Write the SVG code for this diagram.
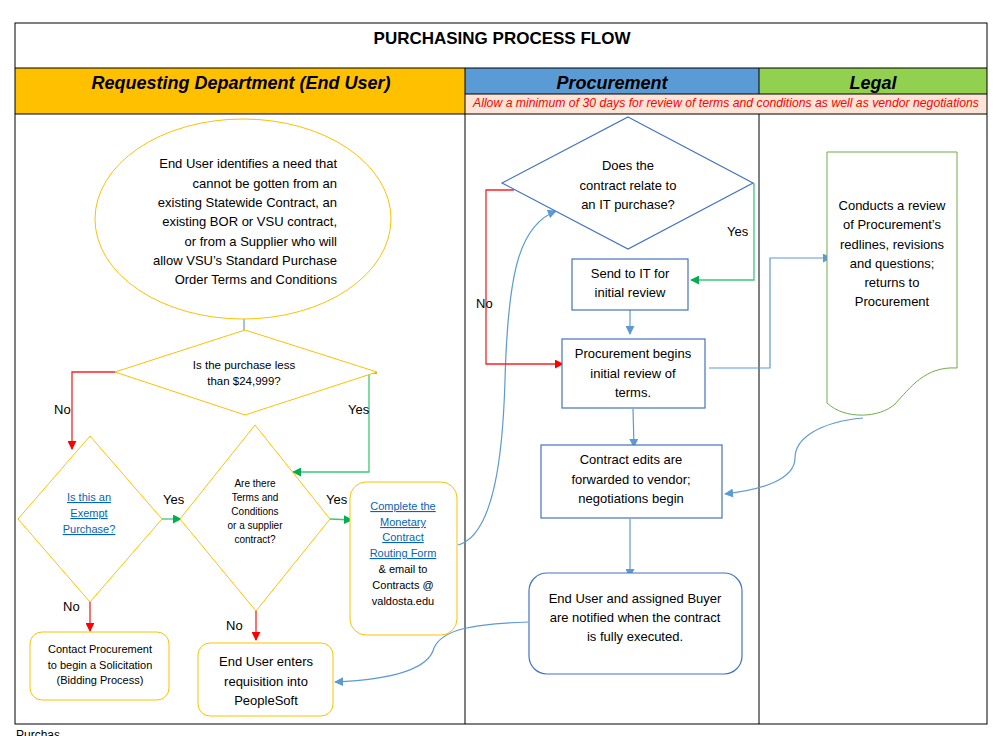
<svg xmlns="http://www.w3.org/2000/svg" width="1000" height="736" viewBox="0 0 1000 736">
<defs>
<style>
text{font-family:"Liberation Sans",Arial,sans-serif;fill:#000}
.t13{font-size:13px}
.t11{font-size:11px}
.t10{font-size:10px}
.c{text-anchor:middle}
.r{text-anchor:end}
.lnk{fill:#0563C1;text-decoration:underline}
.y{fill:#fff;stroke:#FFC000;stroke-width:1}
.b{fill:#fff;stroke:#4472C4;stroke-width:1.2}
.grid{stroke:#000;stroke-width:1;fill:none}
.cb{fill:none;stroke:#5B9BD5;stroke-width:1.2}
.cr{fill:none;stroke:#FF2020;stroke-width:1.3}
.cg{fill:none;stroke:#3CC878;stroke-width:1.3}
.hdr{font-size:18px;font-weight:bold;font-style:italic}
</style>
<marker id="ab" viewBox="0 0 10 10" refX="9" refY="5" markerWidth="9" markerHeight="9" markerUnits="userSpaceOnUse" orient="auto"><path d="M0,0 L10,5 L0,10 z" fill="#5B9BD5"/></marker>
<marker id="ar" viewBox="0 0 10 10" refX="9" refY="5" markerWidth="9" markerHeight="9" markerUnits="userSpaceOnUse" orient="auto"><path d="M0,0 L10,5 L0,10 z" fill="#FF0000"/></marker>
<marker id="ag" viewBox="0 0 10 10" refX="9" refY="5" markerWidth="9" markerHeight="9" markerUnits="userSpaceOnUse" orient="auto"><path d="M0,0 L10,5 L0,10 z" fill="#00B050"/></marker>
</defs>
<rect x="0" y="0" width="1000" height="736" fill="#fff"/>

<g id="frame">
<rect x="15" y="68" width="450" height="46" fill="#FFC000"/>
<rect x="465" y="68" width="294" height="26" fill="#5B9BD5"/>
<rect x="759" y="68" width="228" height="26" fill="#92D050"/>
<rect x="465" y="94" width="522" height="20" fill="#FCE4D6"/>
<rect x="15" y="23" width="972" height="701" class="grid"/>
<line x1="15" y1="68" x2="987" y2="68" class="grid"/>
<line x1="15" y1="114" x2="987" y2="114" class="grid"/>
<line x1="465" y1="94" x2="987" y2="94" class="grid"/>
<line x1="465" y1="68" x2="465" y2="724" class="grid"/>
<line x1="759" y1="68" x2="759" y2="94" class="grid"/>
<line x1="759" y1="114" x2="759" y2="724" class="grid"/>
<text x="502" y="44" class="c" style="font-size:17px;font-weight:bold">PURCHASING PROCESS FLOW</text>
<text x="241" y="89" class="c hdr">Requesting Department (End User)</text>
<text x="612" y="89" class="c hdr">Procurement</text>
<text x="873" y="89" class="c hdr">Legal</text>
<text x="726" y="107" class="c" textLength="506" lengthAdjust="spacingAndGlyphs" style="font-size:12px;font-style:italic;fill:#FF0000">Allow a minimum of 30 days for review of terms and conditions as well as vendor negotiations</text>
<text x="16" y="739" style="font-size:12px">Purchas</text>
</g>

<g id="connectors">
<line x1="244" y1="319" x2="244" y2="330" class="cb"/>
<polyline points="115,372 72,372 72,449" class="cr" marker-end="url(#ar)"/>
<text x="54" y="414" class="t13">No</text>
<polyline points="377,373 369,373 369,472 293,472" class="cg" marker-end="url(#ag)"/>
<text x="348" y="414" class="t13">Yes</text>
<line x1="162" y1="519" x2="181" y2="519" class="cg" marker-end="url(#ag)"/>
<text x="163" y="504" class="t13">Yes</text>
<line x1="330" y1="519" x2="352" y2="520" class="cg" marker-end="url(#ag)"/>
<text x="326" y="504" class="t13">Yes</text>
<line x1="90" y1="602" x2="90" y2="631" class="cr" marker-end="url(#ar)"/>
<text x="63" y="611" class="t13">No</text>
<line x1="256" y1="605" x2="256" y2="640" class="cr" marker-end="url(#ar)"/>
<text x="226" y="630" class="t13">No</text>
<path d="M528,622 C470,624 442,630 434,648 C428,672 380,680 335,682" class="cb" marker-end="url(#ab)"/>
<path d="M458,545 C495,535 503,450 505,380 C508,270 520,225 556,211" class="cb" marker-end="url(#ab)"/>
<polyline points="514,190 486,190 486,364 563,364" class="cr" marker-end="url(#ar)"/>
<text x="476" y="308" class="t13">No</text>
<polyline points="753,184 754,184 754,280 691,280" class="cg" marker-end="url(#ag)"/>
<text x="727" y="236" class="t13">Yes</text>
<line x1="630" y1="310" x2="630" y2="334" class="cb" marker-end="url(#ab)"/>
<polyline points="709,368 770,368 770,258 831,258" class="cb" marker-end="url(#ab)"/>
<path d="M863,418 C820,422 795,438 795,458 C795,480 760,490 725,494" class="cb" marker-end="url(#ab)"/>
<line x1="633" y1="409" x2="634" y2="447" class="cb" marker-end="url(#ab)"/>
<line x1="630" y1="519" x2="630" y2="577" class="cb" marker-end="url(#ab)"/>
</g>

<g id="n-start">
<ellipse cx="243" cy="219" rx="148" ry="100" class="y"/>
<text class="t13 r"><tspan x="337" y="168">End User identifies a need that</tspan><tspan x="337" y="188">cannot be gotten from an</tspan><tspan x="337" y="207">existing Statewide Contract, an</tspan><tspan x="337" y="226">existing BOR or VSU contract,</tspan><tspan x="337" y="246">or from a Supplier who will</tspan><tspan x="337" y="265">allow VSU’s Standard Purchase</tspan><tspan x="337" y="284">Order Terms and Conditions</tspan></text>
</g>

<g id="n-less">
<polygon points="245,330 377,372 245,415 115,372" class="y"/>
<text class="c" style="font-size:11.5px"><tspan x="244" y="369">Is the purchase less</tspan><tspan x="244" y="385">than $24,999?</tspan></text>
</g>

<g id="n-exempt">
<polygon points="90,436 162,519 90,602 18,519" class="y"/>
<text class="t11 c lnk"><tspan x="89" y="501">Is this an</tspan><tspan x="89" y="517">Exempt</tspan><tspan x="89" y="533">Purchase?</tspan></text>
</g>

<g id="n-terms">
<polygon points="255,425 330,519 256,611 180,519" class="y"/>
<text class="t10 c"><tspan x="255" y="487">Are there</tspan><tspan x="255" y="501">Terms and</tspan><tspan x="255" y="515">Conditions</tspan><tspan x="255" y="529">or a supplier</tspan><tspan x="255" y="543">contract?</tspan></text>
</g>

<g id="n-routing">
<rect x="350" y="482" width="107" height="153" rx="16" class="y"/>
<text class="t11 c"><tspan x="403" y="510" class="lnk">Complete the</tspan><tspan x="403" y="526" class="lnk">Monetary</tspan><tspan x="403" y="541" class="lnk">Contract</tspan><tspan x="403" y="557" class="lnk">Routing Form</tspan><tspan x="403" y="573">&amp; email to</tspan><tspan x="403" y="589">Contracts @</tspan><tspan x="403" y="605">valdosta.edu</tspan></text>
</g>

<g id="n-solicit">
<rect x="30" y="632" width="139" height="68" rx="12" class="y"/>
<text class="t11 c"><tspan x="100" y="653">Contact Procurement</tspan><tspan x="100" y="669">to begin a Solicitation</tspan><tspan x="100" y="684">(Bidding Process)</tspan></text>
</g>

<g id="n-req">
<rect x="198" y="643" width="135" height="73" rx="12" class="y"/>
<text class="t13 c"><tspan x="266" y="666">End User enters</tspan><tspan x="266" y="686">requisition into</tspan><tspan x="266" y="705">PeopleSoft</tspan></text>
</g>

<g id="n-it">
<polygon points="628,117 753,183 628,249 502,183" class="b"/>
<text class="t13 c"><tspan x="628" y="170">Does the</tspan><tspan x="628" y="190">contract relate to</tspan><tspan x="628" y="209">an IT purchase?</tspan></text>
</g>

<g id="n-sendit">
<rect x="572" y="259" width="116" height="51" class="b"/>
<text class="t13 c"><tspan x="630" y="278">Send to IT for</tspan><tspan x="630" y="297">initial review</tspan></text>
</g>

<g id="n-initial">
<rect x="562" y="339" width="143" height="69" class="b"/>
<text class="t13 c"><tspan x="633" y="358">Procurement begins</tspan><tspan x="633" y="378">initial review of</tspan><tspan x="633" y="397">terms.</tspan></text>
</g>

<g id="n-legal">
<path d="M827,152 L957,152 L957,368 C925,366 910,388 895,404 C880,418 845,420 827,403 Z" fill="#fff" stroke="#70AD47" stroke-width="1"/>
<text class="t13 c"><tspan x="892" y="210">Conducts a review</tspan><tspan x="892" y="229">of Procurement’s</tspan><tspan x="892" y="249">redlines, revisions</tspan><tspan x="892" y="268">and questions;</tspan><tspan x="892" y="287">returns to</tspan><tspan x="892" y="306">Procurement</tspan></text>
</g>

<g id="n-edits">
<rect x="541" y="445" width="181" height="73" class="b"/>
<text class="t13 c"><tspan x="631" y="464">Contract edits are</tspan><tspan x="631" y="484">forwarded to vendor;</tspan><tspan x="631" y="503">negotiations begin</tspan></text>
</g>

<g id="n-notify">
<rect x="529" y="573" width="213" height="101" rx="18" class="b"/>
<text class="t13 c"><tspan x="635" y="603">End User and assigned Buyer</tspan><tspan x="635" y="622">are notified when the contract</tspan><tspan x="635" y="641">is fully executed.</tspan></text>
</g>
</svg>
